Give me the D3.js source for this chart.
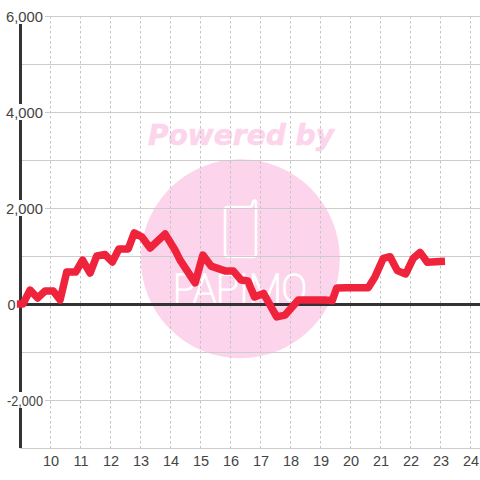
<!DOCTYPE html>
<html><head><meta charset="utf-8">
<script src="https://cdn.jsdelivr.net/npm/d3@7"></script>
<style>html,body{margin:0;padding:0;background:#fff}svg{display:block}</style>
</head><body><svg id="c" width="480" height="480"></svg>
<script>
const hours = [8.88,9.08,9.32,9.57,9.82,10.09,10.32,10.54,10.84,11.07,11.32,11.54,11.82,12.06,12.28,12.59,12.79,13.04,13.32,13.82,14.15,14.32,14.82,15.08,15.35,15.82,16.09,16.35,16.58,16.8,17.1,17.54,17.82,18.26,19.15,19.39,19.54,19.87,20.59,20.82,21.09,21.32,21.56,21.84,22.09,22.32,22.56,23.15];
const values = [0,0,290,125,270,270,85,665,665,915,645,1000,1030,875,1145,1145,1480,1400,1165,1460,1125,915,440,1020,790,690,690,500,480,145,220,-270,-230,85,85,70,335,340,340,570,950,985,695,625,950,1075,870,890];
const yTicks = [-3000,-2000,-1000,1000,2000,3000,4000,5000,6000];
const yLabels = [-2000,0,2000,4000,6000];
const xTicks = [10,11,12,13,14,15,16,17,18,19,20,21,22,23,24];
const wmTitle = "Powered by";
const wmName = "PAPIMO";

const svg = d3.select("#c");
const x = d3.scaleLinear().domain([9,24]).range([20.5,470.5]);
const y = d3.scaleLinear().domain([-3000,6000]).range([448,16]);
const fmt = d3.format(",");

const wm = svg.append("g");
wm.append("circle").attr("cx",240.3).attr("cy",258.7).attr("r",99.5).attr("fill","#fcd5ec");
wm.append("text").attr("x",148).attr("y",145)
  .attr("font-family","'DejaVu Sans'").attr("font-weight","bold").attr("font-style","italic")
  .attr("font-size",29).attr("textLength",186).attr("lengthAdjust","spacingAndGlyphs")
  .attr("fill","#fcd5ec").attr("stroke","#fcd5ec").attr("stroke-width",.6).text(wmTitle);
wm.append("path").attr("fill","none").attr("stroke","#fff").attr("stroke-width",2.6).attr("stroke-linejoin","round")
  .attr("d","M225 210 Q225 207 228 207 L250 207 Q252 207 252.5 204 Q253.5 200 255 200.5 Q256 201 256 204 L256 254 Q256 257 253 257 L228 257 Q225 257 225 254 Z");
wm.append("text").attr("x",173).attr("y",302)
  .attr("font-family","Roboto").attr("font-weight","100").attr("font-size",38)
  .attr("textLength",134).attr("lengthAdjust","spacingAndGlyphs")
  .attr("fill","#fff").attr("stroke","#fff").attr("stroke-width",1.4).text(wmName);

svg.append("g").selectAll("line").data(xTicks).join("line")
  .attr("x1",d=>x(d)).attr("x2",d=>x(d)).attr("y1",16).attr("y2",448)
  .attr("stroke","#c4c4c4").attr("stroke-width",1).attr("stroke-dasharray","2.5,2.5");
svg.append("g").selectAll("line").data(yTicks).join("line")
  .attr("x1",20).attr("x2",480).attr("y1",d=>y(d)+.5).attr("y2",d=>y(d)+.5)
  .attr("stroke","#ccc").attr("stroke-width",1);

svg.append("line").attr("x1",20.5).attr("x2",20.5).attr("y1",16).attr("y2",448)
  .attr("stroke","#333").attr("stroke-width",3);
svg.append("line").attr("x1",19).attr("x2",480).attr("y1",y(0)+.5).attr("y2",y(0)+.5)
  .attr("stroke","#333").attr("stroke-width",3);

svg.append("path").datum(hours.map((h,i)=>[h,values[i]]))
  .attr("fill","none").attr("stroke","#ef233c").attr("stroke-width",7.5)
  .attr("stroke-linejoin","round")
  .attr("d",d3.line().x(d=>x(d[0])).y(d=>y(d[1])));

svg.append("g").selectAll("rect").data(yLabels.filter(d=>d!==0)).join("rect")
  .attr("x",5).attr("y",d=>y(d)-8).attr("width",40).attr("height",16).attr("fill","#fff");
svg.append("g").selectAll("text").data(yLabels).join("text")
  .attr("x",d=>d===0?7.5:(d<0?7:6)).attr("y",d=>y(d)+5.5)
  .attr("font-family","'Liberation Sans'").attr("font-size",14.5)
  .attr("textLength",d=>d===0?null:(d<0?36:37))
  .attr("lengthAdjust","spacingAndGlyphs")
  .attr("fill","#444").text(d=>fmt(d).replace("−","-"));

svg.append("g").selectAll("text").data(xTicks).join("text")
  .attr("x",d=>x(d)+.5).attr("y",466).attr("text-anchor","middle")
  .attr("font-family","'Liberation Sans'").attr("font-size",14.5).attr("fill","#444").text(d=>d);
</script></body></html>
